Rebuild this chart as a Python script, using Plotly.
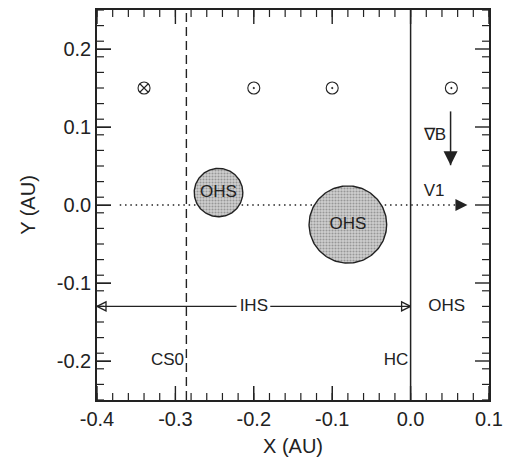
import numpy as np
import plotly.graph_objects as go

# ---- data ----
x_ticks = [-0.4, -0.3, -0.2, -0.1, 0.0, 0.1]
x_ticktext = ["-0.4", "-0.3", "-0.2", "-0.1", "0.0", "0.1"]
y_ticks = [-0.2, -0.1, 0.0, 0.1, 0.2]
y_ticktext = ["-0.2", "-0.1", "0.0", "0.1", "0.2"]
minor_step = 0.02

sym_x = [-0.34, -0.2, -0.1, 0.052]
sym_y = [0.15, 0.15, 0.15, 0.15]
sym_kind = ["circle-x-open", "circle-open-dot", "circle-open-dot", "circle-open-dot"]

ohs_cx = [-0.245, -0.08]
ohs_cy = [0.016, -0.025]
ohs_r = [0.031, 0.0495]

cs0_x = -0.286
hc_x = 0.0
v1_y = 0.0
v1_x = [-0.371, 0.066]
v1_tip = 0.0725
gradb_x = 0.051
gradb_y = [0.12, 0.051]
ihs_y = -0.13
ihs_ends = [-0.4, 0.0]
ihs_gap = [-0.222, -0.179]

label_x = [cs0_x - 0.003, hc_x - 0.003, 0.046, -0.2, 0.031, 0.030]
label_y = [-0.2, -0.2, ihs_y, ihs_y, 0.089, 0.017]
label_txt = ["CS0", "HC", "OHS", "IHS", "∇B", "V1"]
label_pos = ["middle left", "middle left", "middle center", "middle center",
             "middle center", "middle center"]

XR = [-0.4, 0.1]
YR = [-0.25, 0.25]

INK = "#222222"
FONT = "Liberation Sans, Arial, sans-serif"

fig = go.Figure()

def line(xs, ys, width=1.4, dash="solid"):
    fig.add_trace(go.Scatter(x=xs, y=ys, mode="lines",
                             line=dict(color=INK, width=width, dash=dash),
                             hoverinfo="skip", showlegend=False))

# dotted V1 line
line(v1_x, [v1_y, v1_y], 1.4, "1.5px,3.8px")
# vertical boundaries
line([cs0_x, cs0_x], YR, 1.4, "9px,5px")
line([hc_x, hc_x], YR, 1.5)

# OHS circles
t = np.linspace(0, 2 * np.pi, 181)
for cx, cy, r in zip(ohs_cx, ohs_cy, ohs_r):
    fig.add_trace(go.Scatter(
        x=cx + r * np.cos(t), y=cy + r * np.sin(t), mode="lines",
        fill="toself", fillcolor="#c8c8c8",
        fillpattern=dict(shape=".", bgcolor="#d0d0d0", fgcolor="#5e5e5e",
                         size=3, solidity=0.4),
        line=dict(color=INK, width=1.4),
        hoverinfo="skip", showlegend=False))

# OHS labels in circles
fig.add_trace(go.Scatter(x=ohs_cx, y=ohs_cy, mode="text", text=["OHS", "OHS"],
                         textposition="middle center",
                         textfont=dict(family=FONT, size=17, color=INK),
                         hoverinfo="skip", showlegend=False))

# field symbols
fig.add_trace(go.Scatter(x=sym_x, y=sym_y, mode="markers",
                         marker=dict(symbol=sym_kind, size=12, color=INK,
                                     line=dict(color=INK, width=1.1)),
                         hoverinfo="skip", showlegend=False))

# IHS double arrow
line([ihs_ends[0], ihs_gap[0]], [ihs_y, ihs_y], 1.3)
line([ihs_gap[1], ihs_ends[1]], [ihs_y, ihs_y], 1.3)
fig.add_trace(go.Scatter(x=ihs_ends, y=[ihs_y, ihs_y], mode="markers",
                         marker=dict(symbol=["arrow-left-open", "arrow-right-open"],
                                     size=9, color=INK, line=dict(color=INK, width=1.3)),
                         cliponaxis=False, hoverinfo="skip", showlegend=False))

# grad B arrow
line([gradb_x, gradb_x], gradb_y, 1.5)
fig.add_trace(go.Scatter(x=[gradb_x], y=[gradb_y[1]], mode="markers",
                         marker=dict(symbol="arrow-down", size=14, color=INK,
                                     line=dict(color=INK, width=0)),
                         hoverinfo="skip", showlegend=False))
# V1 arrow head
fig.add_trace(go.Scatter(x=[v1_tip], y=[v1_y], mode="markers",
                         marker=dict(symbol="arrow-right", size=12, color=INK,
                                     line=dict(color=INK, width=0)),
                         hoverinfo="skip", showlegend=False))

# text labels
fig.add_trace(go.Scatter(x=label_x, y=label_y, mode="text", text=label_txt,
                         textposition=label_pos,
                         textfont=dict(family=FONT, size=17, color=INK),
                         hoverinfo="skip", showlegend=False))

# frame tick marks (inside, on all four sides), clipped to the plot area
x_minor = np.round(np.arange(XR[0], XR[1] + 1e-9, minor_step), 4)
y_minor = np.round(np.arange(YR[0], YR[1] + 1e-9, minor_step), 4)

def tick_marks(xs, ys, symbol, size, width):
    fig.add_trace(go.Scatter(x=xs, y=ys, mode="markers", cliponaxis=True,
                             marker=dict(symbol=symbol, size=size, color=INK,
                                         line=dict(color=INK, width=width)),
                             hoverinfo="skip", showlegend=False))

for edge in YR:
    tick_marks(x_minor, [edge] * len(x_minor), "line-ns", 10, 1.2)
    tick_marks(x_ticks, [edge] * len(x_ticks), "line-ns", 20, 1.4)
for edge in XR:
    tick_marks([edge] * len(y_minor), y_minor, "line-ew", 10, 1.2)
    tick_marks([edge] * len(y_ticks), y_ticks, "line-ew", 20, 1.4)

axis_common = dict(
    ticks="inside", ticklen=14, tickwidth=1.4, tickcolor=INK,
    showline=True, linecolor=INK, linewidth=1.5, mirror=True,
    showgrid=False, zeroline=False,
    tickfont=dict(family=FONT, size=20, color=INK),
)
title_font = dict(family=FONT, size=20, color=INK)

fig.update_layout(
    width=514, height=462,
    margin=dict(l=97, r=25, t=8, b=61),
    plot_bgcolor="white",
    xaxis=dict(range=XR, tickvals=x_ticks, ticktext=x_ticktext,
               title=dict(text="X (AU)", font=title_font, standoff=10),
               **axis_common),
    yaxis=dict(range=YR, tickvals=y_ticks, ticktext=y_ticktext,
               title=dict(text="Y (AU)", font=title_font, standoff=16),
               **axis_common),
)

fig.write_html("out.html")
